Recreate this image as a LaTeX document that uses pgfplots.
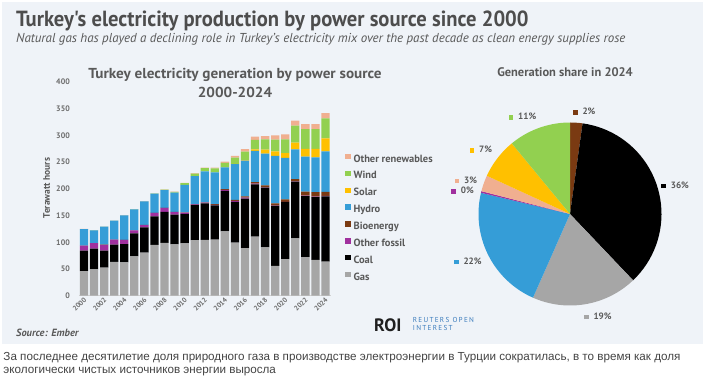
\documentclass[border=0pt]{standalone}
\usepackage{pgfplots}
\pgfplotsset{compat=1.18}
\usepackage{pgfplotstable}
\usepackage{fontspec}
\setmainfont{PT Sans}
\newfontfamily\condfont[FakeStretch=0.94]{PT Sans}
\newfontfamily\widefont[FakeStretch=1.05]{PT Sans}
\newfontfamily\capfont{Liberation Sans}

\definecolor{bgcol}{HTML}{EFF3F8}
\definecolor{titlecol}{HTML}{4D4D4D}
\definecolor{labcol}{HTML}{595959}
\definecolor{tickcol}{HTML}{6B6B6B}
\definecolor{capcol}{HTML}{444444}
\definecolor{roiblue}{HTML}{3D7DBD}
\definecolor{gascol}{HTML}{A6A6A6}
\definecolor{coalcol}{HTML}{000000}
\definecolor{oilcol}{HTML}{A0309E}
\definecolor{biocol}{HTML}{7A3A12}
\definecolor{hydrocol}{HTML}{359DD7}
\definecolor{solarcol}{HTML}{FFC000}
\definecolor{windcol}{HTML}{92D050}
\definecolor{othercol}{HTML}{F0AF90}

% Turkey electricity generation, TWh (year index 0 = 2000)
\pgfplotstableread{
yr gas coal oil bio hydro solar wind other
0 46.2 38.2 9.3 0.2 30.9 0 0.03 0.1
1 49.5 38.4 10.4 0.2 24.0 0 0.06 0.1
2 52.5 32.1 10.7 0.2 33.7 0 0.05 0.1
3 63.5 32.3 9.2 0.1 35.3 0 0.06 0.1
4 62.2 34.4 7.7 0.1 46.1 0 0.06 0.1
5 73.4 43.2 5.5 0.1 39.6 0 0.06 0.1
6 80.7 47.3 4.3 0.15 44.2 0 0.13 0.1
7 95.0 53.4 6.5 0.2 35.9 0 0.36 0.2
8 98.7 58.1 7.5 0.2 33.3 0 0.85 0.2
9 96.1 55.6 4.8 0.3 36.0 0 1.5 0.4
10 98.1 55.0 2.2 0.5 51.8 0 2.9 0.7
11 104.0 66.2 0.9 0.5 52.3 0 4.7 0.7
12 104.5 68.1 1.6 0.7 57.9 0 5.9 0.9
13 105.1 63.9 1.2 1.2 59.4 0 7.6 1.4
14 120.6 75.5 2.1 1.4 40.6 0.02 8.5 2.4
15 99.2 76.2 2.2 1.8 67.1 0.2 11.7 3.4
16 89.2 92.3 1.9 2.4 67.2 1.0 15.5 4.8
17 110.5 98.0 1.2 3.0 58.2 2.9 17.9 6.1
18 90.5 112.0 0.4 3.5 59.5 7.5 19.0 6.5
19 56.0 112.0 0.4 4.6 88.6 8.5 22.0 8.0
20 68.7 106.8 0.3 4.5 77.5 9.2 25.5 9.5
21 107.5 106.0 0.4 4.5 55.6 12.7 31.8 9.3
22 72.0 114.5 1.0 7.3 65.6 14.4 36.8 9.4
23 67.0 117.4 1.0 8.3 65.3 15.8 36.8 9.4
24 64.0 122.0 1.0 7.5 75.5 24.5 37.5 9.7
}\gen

% 2024 shares: start (cumulative TWh), value (TWh), colour; total 341.7
\newcommand{\pieslice}[3]{%
  \pgfmathsetmacro{\angA}{#1/341.7*360}%
  \pgfmathsetmacro{\angB}{(#1+#2)/341.7*360}%
  \edef\doslice{\noexpand\addplot[fill=#3, draw=none, domain=\angA:\angB, samples=40] ({sin(x)},{cos(x)}) -- (axis cs:0,0) -- cycle;}%
  \doslice}

\newcommand{\plab}[4]{\node[anchor=west, inner sep=0pt, font=\fontsize{9.2}{10}\selectfont\bfseries, text=labcol] at (#1,#2) {\textcolor{#3}{\rule{4.6bp}{4.6bp}}\hspace{5bp}#4};}

\begin{document}
\begin{tikzpicture}[x=1bp,y=1bp]
\fill[white] (0,0) rectangle (703,385);
\fill[bgcol] (1.5,41) rectangle (703,382.5);

% headings
\node[anchor=base west, inner sep=0pt, text=titlecol, font=\condfont\fontsize{22}{24}\selectfont\bfseries] at (16,359) {Turkey's electricity production by power source since 2000};
\node[anchor=base west, inner sep=0pt, text=labcol, font=\fontsize{13}{14}\selectfont\itshape] at (16,343) {Natural gas has played a declining role in Turkey's electricity mix over the past decade as clean energy supplies rose};

\node[anchor=base, inner sep=0pt, text=labcol, font=\widefont\fontsize{14.5}{16}\selectfont\bfseries] at (235,306.7) {Turkey electricity generation by power source};
\node[anchor=base, inner sep=0pt, text=labcol, font=\widefont\fontsize{14.5}{16}\selectfont\bfseries] at (235,287.7) {2000-2024};
\node[rotate=90, inner sep=0pt, text=labcol, font=\fontsize{9.5}{10}\selectfont\bfseries] at (46.7,197) {Terawatt hours};

\node[anchor=base, inner sep=0pt, text=labcol, font=\fontsize{12.5}{13}\selectfont\bfseries] at (565,308.5) {Generation share in 2024};

\node[anchor=base west, inner sep=0pt, text=labcol, font=\fontsize{10.5}{11}\selectfont\bfseries\itshape] at (16,48.5) {Source: Ember};

\node[anchor=base west, inner sep=0pt, text=black!88, font=\fontsize{18}{18}\selectfont\bfseries] at (374,54) {ROI};
\node[anchor=base west, inner sep=0pt, text=roiblue, font=\fontsize{7.2}{8}\selectfont\addfontfeature{LetterSpace=18}] at (412.7,62.4) {REUTERS OPEN};
\node[anchor=base west, inner sep=0pt, text=roiblue, font=\fontsize{7.2}{8}\selectfont\addfontfeature{LetterSpace=18}] at (412.7,54.3) {INTEREST};

\node[anchor=base west, inner sep=0pt, text=capcol, font=\capfont\fontsize{11.7}{13}\selectfont] at (3.3,25) {За последнее десятилетие доля природного газа в производстве электроэнергии в Турции сократилась, в то время как доля};
\node[anchor=base west, inner sep=0pt, text=capcol, font=\capfont\fontsize{11.7}{13}\selectfont] at (3.3,11.7) {экологически чистых источников энергии выросла};

% stacked bars
\begin{axis}[
  at={(79bp,89.3bp)}, anchor=south west, scale only axis,
  width=251.5bp, height=213.7bp,
  xmin=-0.5, xmax=24.5, ymin=0, ymax=400,
  ybar stacked, bar width=8.3bp,
  axis lines*=left,
  y axis line style={draw=none},
  x axis line style={draw=black!18, line width=0.6bp},
  major tick length=0pt, tick style={draw=none},
  ytick={0,50,...,400},
  yticklabel style={anchor=east, inner sep=0pt, xshift=-9bp, text=tickcol, font=\fontsize{8}{8}\selectfont\bfseries},
  xtick={0,2,...,24},
  xticklabels={2000,2002,2004,2006,2008,2010,2012,2014,2016,2018,2020,2022,2024},
  xticklabel style={xshift=1.2bp, yshift=-3bp, rotate=45, anchor=east, inner sep=0pt, text=tickcol, font=\fontsize{7}{7}\selectfont\bfseries},
  /pgf/number format/assume math mode=true,
  clip=false,
  reverse legend,
  legend image code/.code={\fill[#1, draw=none] (0bp,0.5bp) rectangle (5.4bp,5.9bp);},
  legend style={at={(1.0577,0.6645)}, anchor=north west, draw=none, fill=none, inner sep=0pt,
    font=\fontsize{10.5}{11}\selectfont\bfseries, text=labcol, row sep=7.2bp, column sep=3bp,
    nodes={inner sep=0pt, text height=6bp, text depth=1.5bp}},
  legend cell align=left,
]
\addplot[fill=gascol, draw=none] table[x=yr, y=gas] {\gen};
\addplot[fill=coalcol, draw=none] table[x=yr, y=coal] {\gen};
\addplot[fill=oilcol, draw=none] table[x=yr, y=oil] {\gen};
\addplot[fill=biocol, draw=none] table[x=yr, y=bio] {\gen};
\addplot[fill=hydrocol, draw=none] table[x=yr, y=hydro] {\gen};
\addplot[fill=solarcol, draw=none] table[x=yr, y=solar] {\gen};
\addplot[fill=windcol, draw=none] table[x=yr, y=wind] {\gen};
\addplot[fill=othercol, draw=none] table[x=yr, y=other] {\gen};
\legend{Gas,Coal,Other fossil,Bioenergy,Hydro,Solar,Wind,Other renewables}
\end{axis}

% pie
\begin{axis}[
  at={(570bp,171bp)}, anchor=center, scale only axis,
  width=183bp, height=183bp,
  xmin=-1, xmax=1, ymin=-1, ymax=1,
  hide axis, clip=false,
]
\pieslice{0}{7.5}{biocol}
\pieslice{7.5}{122}{coalcol}
\pieslice{129.5}{64}{gascol}
\pieslice{193.5}{75.5}{hydrocol}
\pieslice{269}{1}{oilcol}
\pieslice{270}{9.7}{othercol}
\pieslice{279.7}{24.5}{solarcol}
\pieslice{304.2}{37.5}{windcol}
\end{axis}

\plab{572.7}{273.3}{biocol}{2\%}
\plab{508.4}{268.3}{windcol}{11\%}
\plab{469.4}{235.7}{solarcol}{7\%}
\plab{454.4}{205}{othercol}{3\%}
\plab{451}{194.3}{oilcol}{0\%}
\plab{453.7}{124}{hydrocol}{22\%}
\plab{583.7}{69}{gascol}{19\%}
\plab{661}{200}{coalcol}{36\%}
\end{tikzpicture}
\end{document}
